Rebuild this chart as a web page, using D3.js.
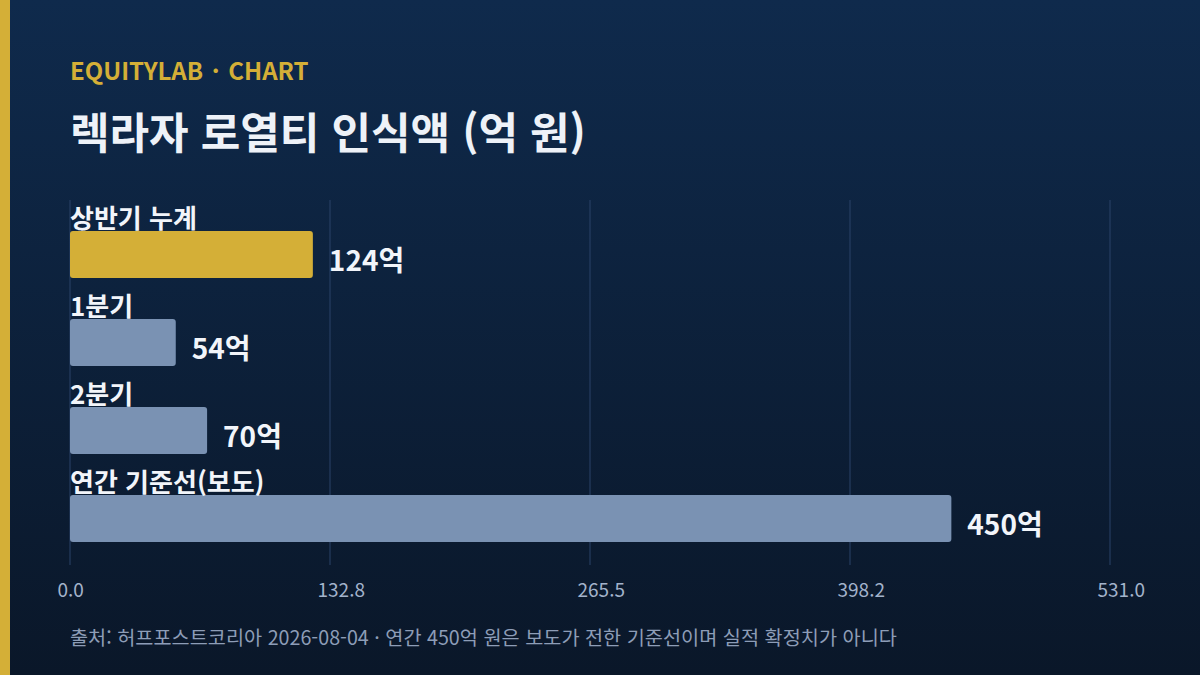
<!DOCTYPE html>
<html lang="ko">
<head>
<meta charset="utf-8">
<script src="https://cdn.jsdelivr.net/npm/d3@7"></script>
<style>
  html, body { margin: 0; padding: 0; background: #0b1a33; }
  svg { display: block; font-family: "Noto Sans CJK KR", "Noto Sans", sans-serif; }
</style>
</head>
<body>
<svg id="chart" width="1200" height="675"></svg>
<script>
// ---- data ---------------------------------------------------------
const categories = [ '상반기 누계', '1분기', '2분기', '연간 기준선(보도)' ]
const values = [ 124, 54, 70, 450 ]
const highlight = [ true, false, false, false ]
const valueLabels = [ '124억', '54억', '70억', '450억' ]
const tickValues = [ 0, 132.75, 265.5, 398.25, 531 ]
const tickLabels = [ '0.0', '132.8', '265.5', '398.2', '531.0' ]
const X_MAX = 531

const eyebrow = 'EQUITYLAB · CHART'
const title = '렉라자 로열티 인식액 (억 원)'
const footnote = '출처: 허프포스트코리아 2026-08-04 · 연간 450억 원은 보도가 전한 기준선이며 실적 확정치가 아니다'

// ---- layout -------------------------------------------------------
const WIDTH = 1200
const HEIGHT = 675
const LEFT = 70
const RIGHT = 1110
const GRID_TOP = 200
const GRID_BOTTOM = 565

const svg = d3.select('#chart')

const defs = svg.append('defs')
const grad = defs.append('linearGradient')
  .attr('id', 'bg')
  .attr('x1', 0).attr('y1', 0)
  .attr('x2', 0).attr('y2', 1)
grad.append('stop').attr('offset', '0%').attr('stop-color', '#0f2a4c')
grad.append('stop').attr('offset', '100%').attr('stop-color', '#0a1729')

svg.append('rect')
  .attr('width', WIDTH)
  .attr('height', HEIGHT)
  .attr('fill', 'url(#bg)')

// gold strip on the left
svg.append('rect')
  .attr('width', 10)
  .attr('height', HEIGHT)
  .attr('fill', '#d4af37')

// header
svg.append('text')
  .attr('x', LEFT)
  .attr('y', 80)
  .attr('fill', '#d4af37')
  .attr('font-size', 24)
  .attr('font-weight', 700)
  .attr('word-spacing', 2)
  .text(eyebrow)

svg.append('text')
  .attr('x', LEFT)
  .attr('y', 149)
  .attr('fill', '#eef2f8')
  .attr('font-size', 43)
  .attr('font-weight', 700)
  .text(title)

// ---- scales -------------------------------------------------------
const x = d3.scaleLinear()
  .domain([ 0, X_MAX ])
  .range([ LEFT, RIGHT ])

const y = d3.scaleBand()
  .domain(categories)
  .range([ 231, 542 ])
  .paddingInner(0.466)
  .paddingOuter(0)

// grid
svg.append('g')
  .selectAll('line')
  .data(tickValues)
  .join('line')
    .attr('x1', d => x(d))
    .attr('x2', d => x(d))
    .attr('y1', GRID_TOP)
    .attr('y2', GRID_BOTTOM)
    .attr('stroke', '#2a4368')
    .attr('stroke-width', 1)

// x axis labels (start-anchored a little left of each grid line)
const axis = svg.append('g')
  .attr('transform', `translate(0, ${GRID_BOTTOM + 18.5})`)
  .call(d3.axisBottom(x)
    .tickValues(tickValues)
    .tickFormat((d, i) => tickLabels[i])
    .tickSize(0)
    .tickPadding(0))
axis.select('.domain').remove()
axis.selectAll('text')
  .attr('text-anchor', 'start')
  .attr('x', -13)
  .attr('fill', '#a3b3cb')
  .attr('font-size', 19)
  .attr('font-family', '"Noto Sans CJK KR", "Noto Sans", sans-serif')

// ---- bars ---------------------------------------------------------
const rows = categories.map((c, i) => ({ c, v: values[i], hi: highlight[i], label: valueLabels[i] }))

const row = svg.append('g')
  .selectAll('g')
  .data(rows)
  .join('g')

row.append('rect')
  .attr('x', x(0))
  .attr('y', d => y(d.c))
  .attr('width', d => x(d.v) - x(0))
  .attr('height', y.bandwidth())
  .attr('rx', 3)
  .attr('fill', d => d.hi ? '#d4af37' : '#7a92b3')

row.append('text')
  .attr('x', x(0))
  .attr('y', d => y(d.c) - 3)
  .attr('fill', '#f2f5fa')
  .attr('font-size', 26)
  .attr('font-weight', 700)
  .text(d => d.c)

row.append('text')
  .attr('x', d => x(d.v) + 16)
  .attr('y', d => y(d.c) + y.bandwidth() / 2 + 16.5)
  .attr('fill', '#f2f5fa')
  .attr('font-size', 28)
  .attr('font-weight', 700)
  .text(d => d.label)

// footnote
svg.append('text')
  .attr('x', LEFT)
  .attr('y', 645)
  .attr('fill', '#8d9db7')
  .attr('font-size', 19.7)
  .text(footnote)
</script>
</body>
</html>
